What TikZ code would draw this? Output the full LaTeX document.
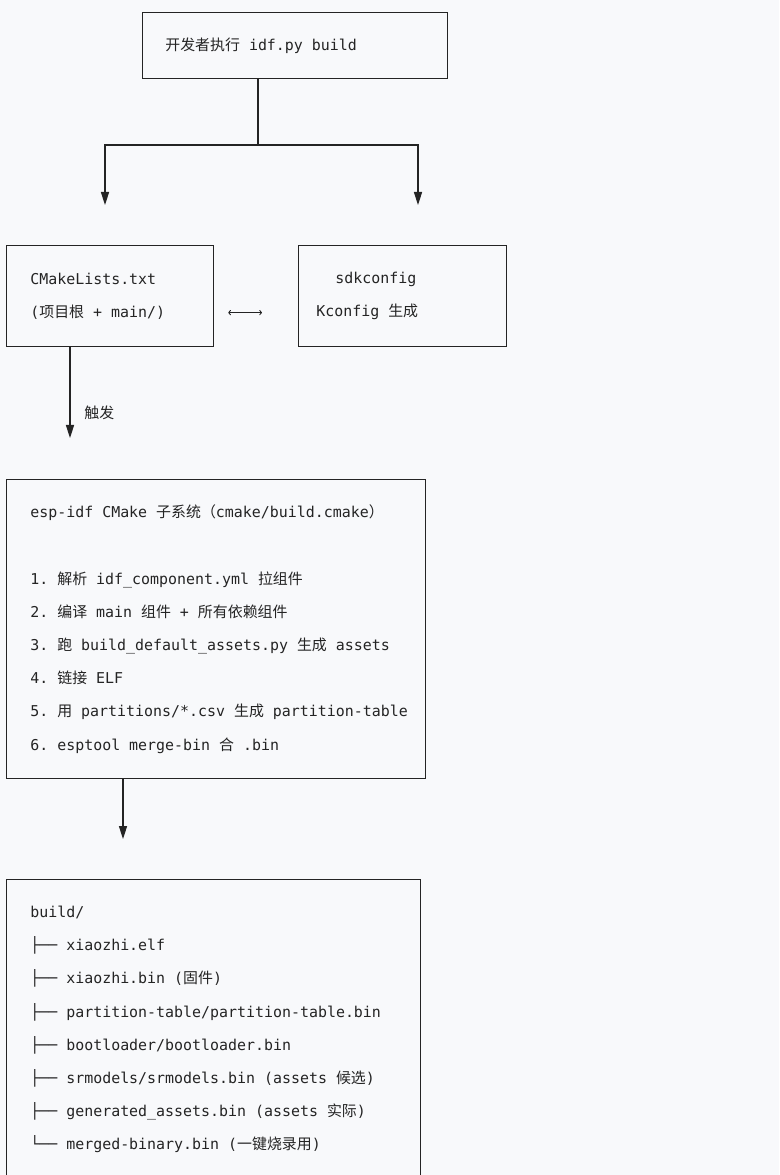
\documentclass[tikz,border=0pt]{standalone}
\usepackage{fontspec}
\setmonofont{DejaVu Sans Mono}
\newfontfamily\cjk{Noto Sans CJK SC}
\newcommand{\zh}[1]{{\cjk #1}}
\usepackage{tikz}
\usetikzlibrary{arrows.meta}
\usetikzlibrary{positioning}
\definecolor{paper}{HTML}{F8F9FB}
\definecolor{ink}{HTML}{242424}

\begin{document}
\begin{tikzpicture}[x=0.02cm,y=-0.02cm,
box/.style={rectangle,draw=ink,line width=0.7pt,anchor=north west,inner sep=0pt},
boxtext/.style={text=ink,align=left,inner sep=0pt,font=\fontsize{8.5}{18.9}\selectfont\ttfamily},
note/.style={text=ink,font=\fontsize{8.5}{18.9}\selectfont\ttfamily},
line/.style={draw=ink,line width=0.7pt,-{Triangle[length=7.4pt,width=4.6pt,sep=7.4pt]}},
plain/.style={draw=ink,line width=0.7pt},
biline/.style={draw=ink,line width=0.5pt,{To[length=1.6pt,width=3pt]}-{To[length=1.6pt,width=3pt]}}]

\useasboundingbox (0,0) rectangle (779,1175);
\clip (0,0) rectangle (779,1175);
\fill [paper] (0,0) rectangle (779,1175);

\node [box, minimum width=6.10cm, minimum height=1.32cm] (dev) at (142,12) {};
\node [boxtext, right=0.46cm of dev.west] (devtxt) {\zh{开发者执行} idf.py build};

\node [box, minimum width=4.14cm, minimum height=2.02cm] (cmk) at (6,245) {};
\node [boxtext, right=0.48cm of cmk.west] (cmktxt) {CMakeLists.txt\\(\zh{项目根} + main/)};

\node [box, minimum width=4.16cm, minimum height=2.02cm] (sdk) at (298,245) {};
\node [boxtext, right=0.36cm of sdk.west] (sdktxt) {\hspace*{0.38cm}sdkconfig\\Kconfig \zh{生成}};

\node [box, minimum width=8.38cm, minimum height=5.98cm] (idf) at (6,479) {};
\node [boxtext, right=0.48cm of idf.west] (idftxt) {esp-idf CMake \zh{子系统（}cmake/build.cmake\zh{）}\\[18.9pt]
1. \zh{解析} idf\_component.yml \zh{拉组件}\\
2. \zh{编译} main \zh{组件} + \zh{所有依赖组件}\\
3. \zh{跑} build\_default\_assets.py \zh{生成} assets\\
4. \zh{链接} ELF\\
5. \zh{用} partitions/*.csv \zh{生成} partition-table\\
6. esptool merge-bin \zh{合} .bin};

\node [box, minimum width=8.28cm, minimum height=6.0cm] (out) at (6,879) {};
\node [boxtext, right=0.48cm of out.west] (outtxt) {build/\\
├── xiaozhi.elf\\
├── xiaozhi.bin (\zh{固件})\\
├── partition-table/partition-table.bin\\
├── bootloader/bootloader.bin\\
├── srmodels/srmodels.bin (assets \zh{候选})\\
├── generated\_assets.bin (assets \zh{实际})\\
└── merged-binary.bin (\zh{一键烧录用})};

\coordinate (fork) at (258,145);
\coordinate (cmkin) at (105,218);
\coordinate (sdkin) at (418,218);
\coordinate (trig) at (70,451);
\coordinate (outin) at (123,852);

\path [plain] (dev.south -| fork) -- (fork);
\path [line] (fork) -| (cmkin);
\path [line] (fork) -| (sdkin);

\path [biline, shorten <=0.28cm, shorten >=0.72cm] ([yshift=-0.33cm]cmk.east) -- ([yshift=-0.33cm]sdk.west);

\path [line] (cmk.south -| trig) -- node [note, pos=0.63, right=0.16cm] (trigtxt) {\zh{触发}} (trig);
\path [line] (idf.south -| outin) -- (outin);
\end{tikzpicture}
\end{document}
